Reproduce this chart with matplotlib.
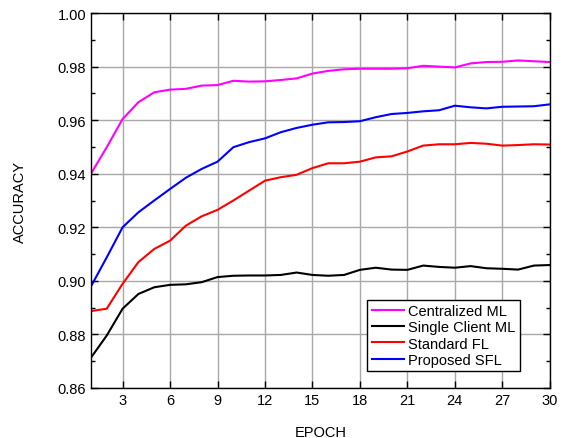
import numpy as np
import matplotlib.pyplot as plt
from matplotlib.ticker import MultipleLocator

plt.rcParams['font.family'] = ['Liberation Sans', 'DejaVu Sans']

epochs = list(range(1, 31))

centralized_ml = [0.9400, 0.9499, 0.9604, 0.9667, 0.9704, 0.9714, 0.9717, 0.9729, 0.9731, 0.9747,
                  0.9744, 0.9745, 0.9750, 0.9756, 0.9774, 0.9784, 0.9790, 0.9792, 0.9792, 0.9792,
                  0.9794, 0.9803, 0.9800, 0.9797, 0.9812, 0.9817, 0.9818, 0.9823, 0.9820, 0.9817]
single_client_ml = [0.8713, 0.8796, 0.8896, 0.8951, 0.8976, 0.8985, 0.8987, 0.8995, 0.9014, 0.9019,
                    0.9020, 0.9020, 0.9022, 0.9031, 0.9022, 0.9019, 0.9022, 0.9041, 0.9049, 0.9042,
                    0.9041, 0.9057, 0.9052, 0.9049, 0.9055, 0.9047, 0.9045, 0.9042, 0.9057, 0.9059]
standard_fl = [0.8887, 0.8896, 0.8989, 0.9070, 0.9119, 0.9150, 0.9206, 0.9241, 0.9265, 0.9300,
               0.9337, 0.9374, 0.9387, 0.9396, 0.9421, 0.9439, 0.9439, 0.9445, 0.9461, 0.9465,
               0.9483, 0.9505, 0.9510, 0.9510, 0.9515, 0.9512, 0.9505, 0.9507, 0.9510, 0.9509]
proposed_sfl = [0.8979, 0.9088, 0.9200, 0.9256, 0.9300, 0.9343, 0.9385, 0.9418, 0.9445, 0.9499,
                0.9518, 0.9532, 0.9555, 0.9571, 0.9583, 0.9592, 0.9593, 0.9596, 0.9611, 0.9623,
                0.9627, 0.9633, 0.9637, 0.9654, 0.9648, 0.9644, 0.9650, 0.9651, 0.9652, 0.9659]

labels = ['Centralized ML', 'Single Client ML', 'Standard FL', 'Proposed SFL']
colors = ['#ff00ff', 'black', 'red', 'blue']

fig = plt.figure(figsize=(5.65, 4.39), dpi=100)
ax = fig.add_axes([0.161, 0.114, 0.812, 0.854])

for series, lab, c in zip([centralized_ml, single_client_ml, standard_fl, proposed_sfl], labels, colors):
    ax.plot(epochs, series, '-', color=c, lw=1.5, label=lab)

ax.set_xlim(1, 30)
ax.set_ylim(0.86, 1.00)
ax.set_xticks(range(3, 31, 3))
ax.set_yticks(np.arange(0.86, 1.001, 0.02))
ax.yaxis.set_minor_locator(MultipleLocator(0.01))
ax.set_yticklabels(['%.2f' % v for v in np.arange(0.86, 1.001, 0.02)])
ax.grid(True, which='major', color='#a8a8a8', lw=1)
ax.tick_params(which='both', direction='in', top=True, right=True, labelsize=10.5)
ax.tick_params(which='major', length=5, width=1)
ax.tick_params(which='minor', length=3, width=1)
for s in ax.spines.values():
    s.set_linewidth(1)

ax.set_xlabel('EPOCH', fontsize=10.5, labelpad=13)
ax.set_ylabel('ACCURACY', fontsize=10.5, labelpad=22)

leg = ax.legend(loc='lower right', bbox_to_anchor=(0.935, 0.045), fontsize=10.5,
                fancybox=False, framealpha=1, edgecolor='black', borderpad=0.3,
                labelspacing=0.15, handlelength=2.2, handletextpad=0.3, borderaxespad=0)
leg.get_frame().set_linewidth(1)

plt.savefig('out.png', dpi=100)
